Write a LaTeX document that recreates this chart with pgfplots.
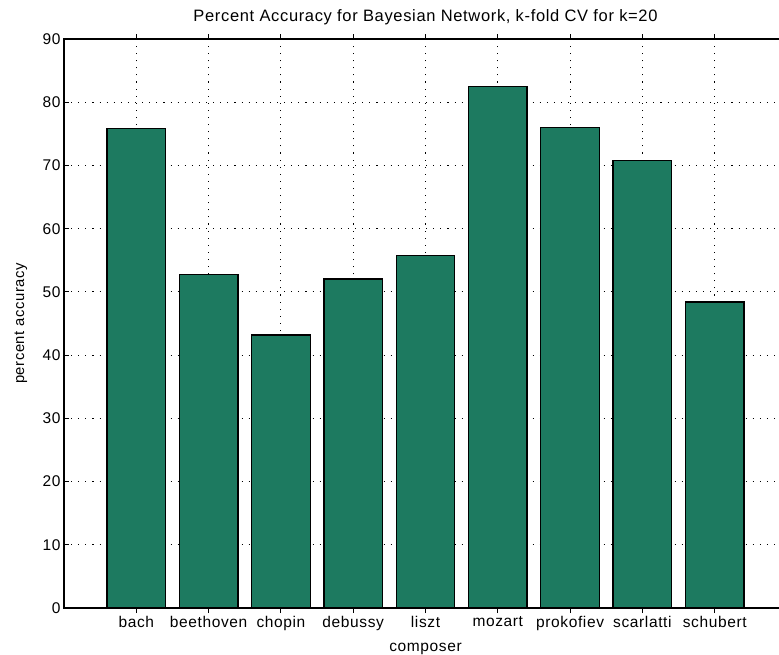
\documentclass[border=0pt]{standalone}
\usepackage{pgfplots}
\pgfplotsset{compat=1.18}
\usepackage{fontspec}
\setmainfont{Liberation Sans}[LetterSpace=4]
\definecolor{barc}{RGB}{29,122,96}
\begin{document}
\begin{tikzpicture}
\begin{axis}[
  at={(64bp,47bp)}, anchor=south west,
  width=723bp, height=569bp, scale only axis,
  xmin=0, xmax=10, ymin=0, ymax=90,
  xtick={1,2,3,4,5,6,7,8,9},
  xticklabels={bach,beethoven,chopin,debussy,liszt,mozart,prokofiev,scarlatti,schubert},
  ytick={0,10,20,30,40,50,60,70,80,90},
  /pgf/number format/assume math mode=true,
  tick align=inside,
  major tick length=5bp,
  tick style={black, line width=1bp},
  axis line style={black, line width=1.3bp},
  grid=major,
  major grid style={black, line width=1.1bp, dash pattern=on 1.1bp off 6bp},
  ticklabel style={font=\fontsize{15.5bp}{17bp}\selectfont},
  xticklabel style={yshift=0bp},
  yticklabel style={xshift=0bp},
  title={Percent Accuracy for Bayesian Network, k-fold CV for k=20},
  title style={font=\fontsize{16.5bp}{18bp}\selectfont, at={(axis description cs:0.5,1)}, anchor=south, yshift=5bp},
  xlabel={composer},
  xlabel style={font=\fontsize{15.5bp}{17bp}\selectfont, at={(axis description cs:0.5,0)}, anchor=center, yshift=-41bp},
  ylabel={percent accuracy},
  ylabel style={font=\fontsize{14.8bp}{16bp}\selectfont, at={(axis description cs:-0.0595,0.5)}, anchor=center},
  ybar, bar width=0.81, bar shift=0pt,
]
\addplot[fill=barc, draw=black, line width=1.3bp] coordinates {
  (1,75.8) (2,52.7) (3,43.2) (4,52.05) (5,55.8) (6,82.5) (7,76.05) (8,70.8) (9,48.4)
};
\end{axis}
\pgfresetboundingbox
\path[use as bounding box] (0,0) rectangle (779bp,655bp);
\end{tikzpicture}
\end{document}
